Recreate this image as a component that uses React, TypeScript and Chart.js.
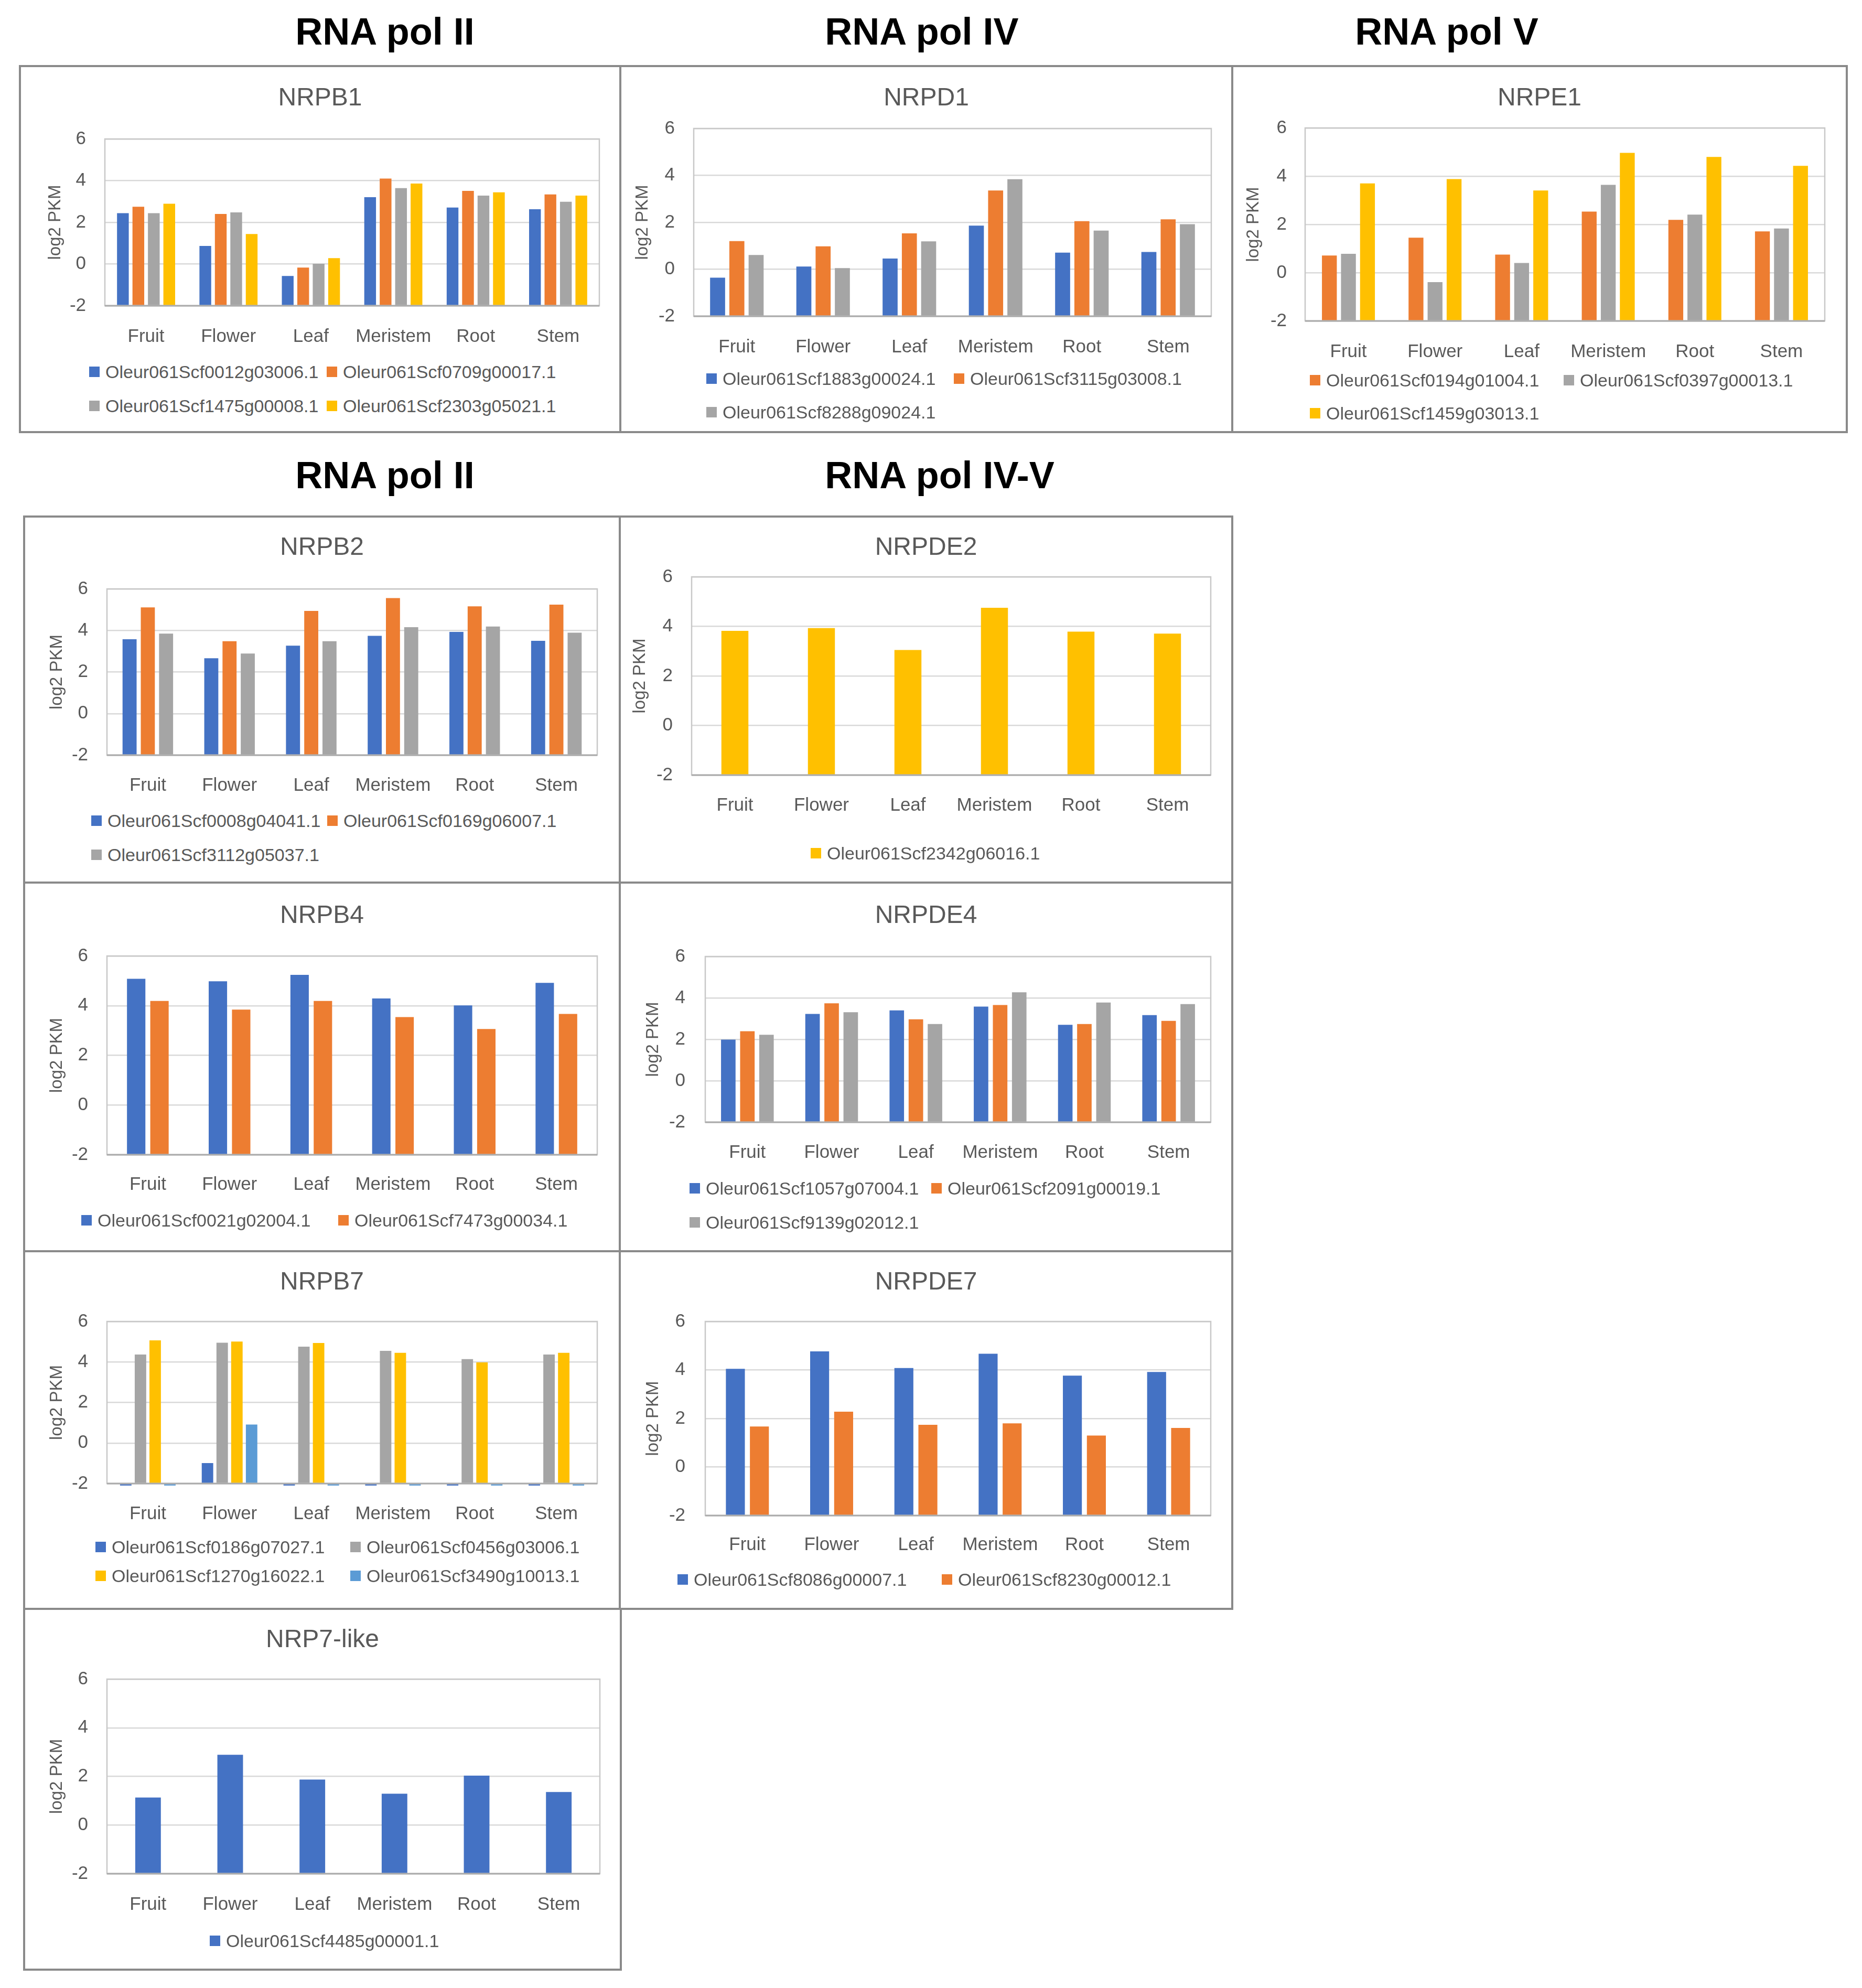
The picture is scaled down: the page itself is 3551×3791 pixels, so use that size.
import React, { useEffect, useRef } from 'react';
import { Chart, registerables } from 'chart.js';

Chart.register(...registerables);

const FONT = '"Liberation Sans", Arial, sans-serif';
const TEXT = '#595959';
const BLUE = '#4472C4';
const ORANGE = '#ED7D31';
const GRAY = '#A5A5A5';
const YELLOW = '#FFC000';
const LIGHTBLUE = '#5B9BD5';

// ---------- data ----------
const categories = ['Fruit', 'Flower', 'Leaf', 'Meristem', 'Root', 'Stem'];
const yTickValues = [-2, 0, 2, 4, 6];
const yAxisTitle = 'log2 PKM';

const nrpb1Names = ['Oleur061Scf0012g03006.1', 'Oleur061Scf0709g00017.1', 'Oleur061Scf1475g00008.1', 'Oleur061Scf2303g05021.1'];
const nrpb1_0012 = [2.44, 0.87, -0.57, 3.21, 2.71, 2.63];
const nrpb1_0709 = [2.75, 2.4, -0.17, 4.1, 3.51, 3.34];
const nrpb1_1475 = [2.44, 2.48, 0.01, 3.64, 3.28, 2.99];
const nrpb1_2303 = [2.89, 1.44, 0.28, 3.86, 3.44, 3.28];

const nrpd1Names = ['Oleur061Scf1883g00024.1', 'Oleur061Scf3115g03008.1', 'Oleur061Scf8288g09024.1'];
const nrpd1_1883 = [-0.36, 0.12, 0.46, 1.86, 0.71, 0.74];
const nrpd1_3115 = [1.2, 0.98, 1.53, 3.36, 2.05, 2.13];
const nrpd1_8288 = [0.61, 0.05, 1.19, 3.84, 1.65, 1.92];

const nrpe1Names = ['Oleur061Scf0194g01004.1', 'Oleur061Scf0397g00013.1', 'Oleur061Scf1459g03013.1'];
const nrpe1_0194 = [0.71, 1.45, 0.75, 2.53, 2.19, 1.71];
const nrpe1_0397 = [0.78, -0.39, 0.4, 3.64, 2.41, 1.83];
const nrpe1_1459 = [3.7, 3.88, 3.41, 4.97, 4.8, 4.43];

const nrpb2Names = ['Oleur061Scf0008g04041.1', 'Oleur061Scf0169g06007.1', 'Oleur061Scf3112g05037.1'];
const nrpb2_0008 = [3.58, 2.66, 3.27, 3.74, 3.93, 3.5];
const nrpb2_0169 = [5.11, 3.48, 4.94, 5.56, 5.16, 5.24];
const nrpb2_3112 = [3.85, 2.89, 3.48, 4.16, 4.19, 3.89];

const nrpde2Names = ['Oleur061Scf2342g06016.1'];
const nrpde2_2342 = [3.82, 3.93, 3.05, 4.75, 3.79, 3.71];

const nrpb4Names = ['Oleur061Scf0021g02004.1', 'Oleur061Scf7473g00034.1'];
const nrpb4_0021 = [5.08, 4.98, 5.24, 4.29, 4.01, 4.92];
const nrpb4_7473 = [4.19, 3.84, 4.19, 3.54, 3.06, 3.67];

const nrpde4Names = ['Oleur061Scf1057g07004.1', 'Oleur061Scf2091g00019.1', 'Oleur061Scf9139g02012.1'];
const nrpde4_1057 = [1.99, 3.23, 3.4, 3.58, 2.7, 3.17];
const nrpde4_2091 = [2.39, 3.74, 2.97, 3.66, 2.74, 2.89];
const nrpde4_9139 = [2.22, 3.31, 2.74, 4.27, 3.78, 3.7];

const nrpb7Names = ['Oleur061Scf0186g07027.1', 'Oleur061Scf0456g03006.1', 'Oleur061Scf1270g16022.1', 'Oleur061Scf3490g10013.1'];
const nrpb7_0186 = [-2.1, -0.99, -2.1, -2.1, -2.1, -2.1];
const nrpb7_0456 = [4.37, 4.95, 4.76, 4.55, 4.14, 4.37];
const nrpb7_1270 = [5.07, 5.01, 4.94, 4.45, 3.98, 4.45];
const nrpb7_3490 = [-2.1, 0.91, -2.1, -2.1, -2.1, -2.1];

const nrpde7Names = ['Oleur061Scf8086g00007.1', 'Oleur061Scf8230g00012.1'];
const nrpde7_8086 = [4.05, 4.77, 4.08, 4.67, 3.77, 3.92];
const nrpde7_8230 = [1.67, 2.28, 1.74, 1.8, 1.3, 1.61];

const nrp7likeNames = ['Oleur061Scf4485g00001.1'];
const nrp7like_4485 = [1.13, 2.89, 1.87, 1.29, 2.03, 1.36];

const headings: [string, number, number][] = [
  ['RNA pol II', 734, 58],
  ['RNA pol IV', 1758, 58],
  ['RNA pol V', 2759, 58],
  ['RNA pol II', 734, 904],
  ['RNA pol IV-V', 1792, 904],
];

// ---------- layout ----------
type PanelCfg = {
  title: string;
  names: string[];
  series: number[][];
  colors: string[];
  box: [number, number, number, number];
  titleCY: number;
  plotTop: number;
  plotBottom: number;
  plotLeft: number;
  plotRight: number;
  catCY: number;
  tickRight: number;
  yTitleCX: number;
  legendRows: number[];
  legendCols: number[];
  cp: number;
  bp: number;
};

const panels: PanelCfg[] = [
  {
    title: 'NRPB1', names: nrpb1Names, series: [nrpb1_0012, nrpb1_0709, nrpb1_1475, nrpb1_2303],
    colors: [BLUE, ORANGE, GRAY, YELLOW], box: [36, 124, 1149, 702],
    titleCY: 188, plotTop: 265, plotBottom: 583, plotLeft: 200, plotRight: 1143, catCY: 634,
    tickRight: 164, yTitleCX: 106, legendRows: [709, 774], legendCols: [170, 623], cp: 0.75, bp: 0.76,
  },
  {
    title: 'NRPD1', names: nrpd1Names, series: [nrpd1_1883, nrpd1_3115, nrpd1_8288],
    colors: [BLUE, ORANGE, GRAY], box: [1181, 124, 1171, 702],
    titleCY: 188, plotTop: 245, plotBottom: 603, plotLeft: 1323, plotRight: 2310, catCY: 654,
    tickRight: 1287, yTitleCX: 1226, legendRows: [722, 786], legendCols: [1347, 1819], cp: 0.67, bp: 0.78,
  },
  {
    title: 'NRPE1', names: nrpe1Names, series: [nrpe1_0194, nrpe1_0397, nrpe1_1459],
    colors: [ORANGE, GRAY, YELLOW], box: [2348, 124, 1176, 702],
    titleCY: 188, plotTop: 244, plotBottom: 612, plotLeft: 2489, plotRight: 3480, catCY: 663,
    tickRight: 2454, yTitleCX: 2391, legendRows: [725, 788], legendCols: [2498, 2982], cp: 0.66, bp: 0.78,
  },
  {
    title: 'NRPB2', names: nrpb2Names, series: [nrpb2_0008, nrpb2_0169, nrpb2_3112],
    colors: [BLUE, ORANGE, GRAY], box: [44, 983, 1140, 702],
    titleCY: 1045, plotTop: 1123, plotBottom: 1440, plotLeft: 204, plotRight: 1139, catCY: 1490,
    tickRight: 168, yTitleCX: 109, legendRows: [1565, 1630], legendCols: [174, 624], cp: 0.67, bp: 0.77,
  },
  {
    title: 'NRPDE2', names: nrpde2Names, series: [nrpde2_2342],
    colors: [YELLOW], box: [1180, 983, 1172, 702],
    titleCY: 1045, plotTop: 1100, plotBottom: 1478, plotLeft: 1319, plotRight: 2309, catCY: 1528,
    tickRight: 1283, yTitleCX: 1221, legendRows: [1627], legendCols: [1546], cp: 0.4, bp: 0.78,
  },
  {
    title: 'NRPB4', names: nrpb4Names, series: [nrpb4_0021, nrpb4_7473],
    colors: [BLUE, ORANGE], box: [44, 1681, 1140, 707],
    titleCY: 1747, plotTop: 1823, plotBottom: 2202, plotLeft: 204, plotRight: 1139, catCY: 2251,
    tickRight: 168, yTitleCX: 109, legendRows: [2327], legendCols: [155, 645], cp: 0.57, bp: 0.79,
  },
  {
    title: 'NRPDE4', names: nrpde4Names, series: [nrpde4_1057, nrpde4_2091, nrpde4_9139],
    colors: [BLUE, ORANGE, GRAY], box: [1180, 1681, 1172, 707],
    titleCY: 1747, plotTop: 1824, plotBottom: 2140, plotLeft: 1345, plotRight: 2309, catCY: 2190,
    tickRight: 1307, yTitleCX: 1246, legendRows: [2266, 2331], legendCols: [1315, 1776], cp: 0.68, bp: 0.76,
  },
  {
    title: 'NRPB7', names: nrpb7Names, series: [nrpb7_0186, nrpb7_0456, nrpb7_1270, nrpb7_3490],
    colors: [BLUE, GRAY, YELLOW, LIGHTBLUE], box: [44, 2384, 1140, 686],
    titleCY: 2446, plotTop: 2520, plotBottom: 2829, plotLeft: 204, plotRight: 1139, catCY: 2879,
    tickRight: 168, yTitleCX: 109, legendRows: [2950, 3005], legendCols: [182, 668], cp: 0.72, bp: 0.78,
  },
  {
    title: 'NRPDE7', names: nrpde7Names, series: [nrpde7_8086, nrpde7_8230],
    colors: [BLUE, ORANGE], box: [1180, 2384, 1172, 686],
    titleCY: 2446, plotTop: 2520, plotBottom: 2890, plotLeft: 1345, plotRight: 2309, catCY: 2938,
    tickRight: 1307, yTitleCX: 1246, legendRows: [3012], legendCols: [1292, 1796], cp: 0.57, bp: 0.79,
  },
  {
    title: 'NRP7-like', names: nrp7likeNames, series: [nrp7like_4485],
    colors: [BLUE], box: [44, 3066, 1142, 692],
    titleCY: 3128, plotTop: 3202, plotBottom: 3573, plotLeft: 204, plotRight: 1144, catCY: 3624,
    tickRight: 168, yTitleCX: 109, legendRows: [3701], legendCols: [400], cp: 0.4, bp: 0.78,
  },
];

const plotFrame = {
  id: 'plotFrame',
  beforeDatasetsDraw(chart: any) {
    const { ctx, chartArea: a } = chart;
    ctx.save();
    ctx.strokeStyle = '#C8C8C8';
    ctx.lineWidth = 2.5;
    ctx.strokeRect(a.left, a.top, a.right - a.left, a.bottom - a.top);
    ctx.restore();
  },
  afterDatasetsDraw(chart: any) {
    const { ctx, chartArea: a } = chart;
    ctx.save();
    ctx.strokeStyle = '#ABABAB';
    ctx.lineWidth = 3;
    ctx.beginPath();
    ctx.moveTo(a.left, a.bottom);
    ctx.lineTo(a.right, a.bottom);
    ctx.stroke();
    ctx.restore();
  },
};

const X_AXIS_H = 80;

function Panel({ cfg }: { cfg: PanelCfg }) {
  const ref = useRef<HTMLCanvasElement>(null);
  const [L, T, W, H] = cfg.box;
  const canvasH = Math.round(cfg.plotBottom - T + X_AXIS_H);

  useEffect(() => {
    const titleLH = 48 * 1.2;
    const rightGap = L + W - cfg.plotRight;
    const chart = new Chart(ref.current as HTMLCanvasElement, {
      type: 'bar',
      data: {
        labels: categories,
        datasets: cfg.series.map((d, i) => ({
          label: cfg.names[i],
          data: d,
          backgroundColor: cfg.colors[i],
          borderWidth: 0,
          base: -2,
          categoryPercentage: cfg.cp,
          barPercentage: cfg.bp,
          clip: 12,
          yAxisID: 'y',
        })) as any,
      },
      options: {
        responsive: false,
        animation: false,
        devicePixelRatio: 1,
        layout: { padding: 0 },
        plugins: {
          legend: { display: false },
          tooltip: { enabled: false },
          title: {
            display: true,
            text: cfg.title,
            color: TEXT,
            font: { family: FONT, size: 48, weight: 'normal' },
            padding: {
              top: cfg.titleCY - T - titleLH / 2,
              bottom: cfg.plotTop - cfg.titleCY - titleLH / 2,
            },
          },
        },
        scales: {
          x: {
            grid: { display: false },
            border: { display: false },
            ticks: {
              color: TEXT,
              font: { family: FONT, size: 35 },
              padding: cfg.catCY - cfg.plotBottom - 21,
              autoSkip: false,
              maxRotation: 0,
              minRotation: 0,
            },
            afterFit: (s: any) => { s.height = X_AXIS_H; },
          },
          y: {
            position: 'left',
            min: -2,
            max: 6,
            afterBuildTicks: (s: any) => { s.ticks = yTickValues.map((v) => ({ value: v })); },
            grid: { color: '#D9D9D9', lineWidth: 2.5, drawTicks: false },
            border: { display: false },
            ticks: {
              color: TEXT,
              font: { family: FONT, size: 35 },
              padding: cfg.plotLeft - cfg.tickRight,
              callback: (v: any) => String(v),
            },
            title: {
              display: true,
              text: yAxisTitle,
              color: TEXT,
              font: { family: FONT, size: 33 },
              padding: { top: cfg.yTitleCX - L - 19.8, bottom: 0 },
            },
            afterFit: (s: any) => { s.width = cfg.plotLeft - L; },
          },
          rightGap: {
            type: 'linear',
            position: 'right',
            display: true,
            grid: { display: false, drawTicks: false },
            border: { display: false },
            ticks: { display: false },
            afterFit: (s: any) => { s.width = rightGap; },
          },
        },
      } as any,
      plugins: [plotFrame],
    });
    return () => chart.destroy();
  }, []);

  return (
    <>
      <div
        style={{
          position: 'absolute', left: L, top: T, width: W, height: H,
          border: '4px solid #8A8A8A', boxSizing: 'border-box',
        }}
      />
      <canvas
        ref={ref}
        width={W}
        height={canvasH}
        style={{ position: 'absolute', left: L, top: T, width: W, height: canvasH }}
      />
      {cfg.names.map((name, i) => {
        const col = cfg.legendCols.length > 1 ? i % 2 : 0;
        const row = cfg.legendCols.length > 1 ? Math.floor(i / 2) : i;
        const x = cfg.legendCols[col];
        const cy = cfg.legendRows[row];
        return (
          <div
            key={name}
            style={{
              position: 'absolute', left: x, top: cy - 20, height: 40,
              display: 'flex', alignItems: 'center', whiteSpace: 'nowrap',
            }}
          >
            <div style={{ width: 20, height: 20, background: cfg.colors[i], marginRight: 11 }} />
            <span style={{ fontFamily: FONT, fontSize: 34, lineHeight: '40px', color: TEXT }}>{name}</span>
          </div>
        );
      })}
    </>
  );
}

export default function App() {
  return (
    <div
      style={{
        position: 'absolute', left: 0, top: 0, width: 3551, height: 3791,
        background: '#FFFFFF', overflow: 'hidden',
      }}
    >
      {headings.map(([t, cx, cy], i) => (
        <div
          key={i}
          style={{
            position: 'absolute', left: cx - 400, width: 800, top: cy - 34,
            textAlign: 'center', fontFamily: FONT, fontWeight: 'bold', fontSize: 72,
            lineHeight: '72px', color: '#000000', whiteSpace: 'nowrap',
          }}
        >
          {t}
        </div>
      ))}
      {panels.map((p) => (
        <Panel key={p.title} cfg={p} />
      ))}
    </div>
  );
}
